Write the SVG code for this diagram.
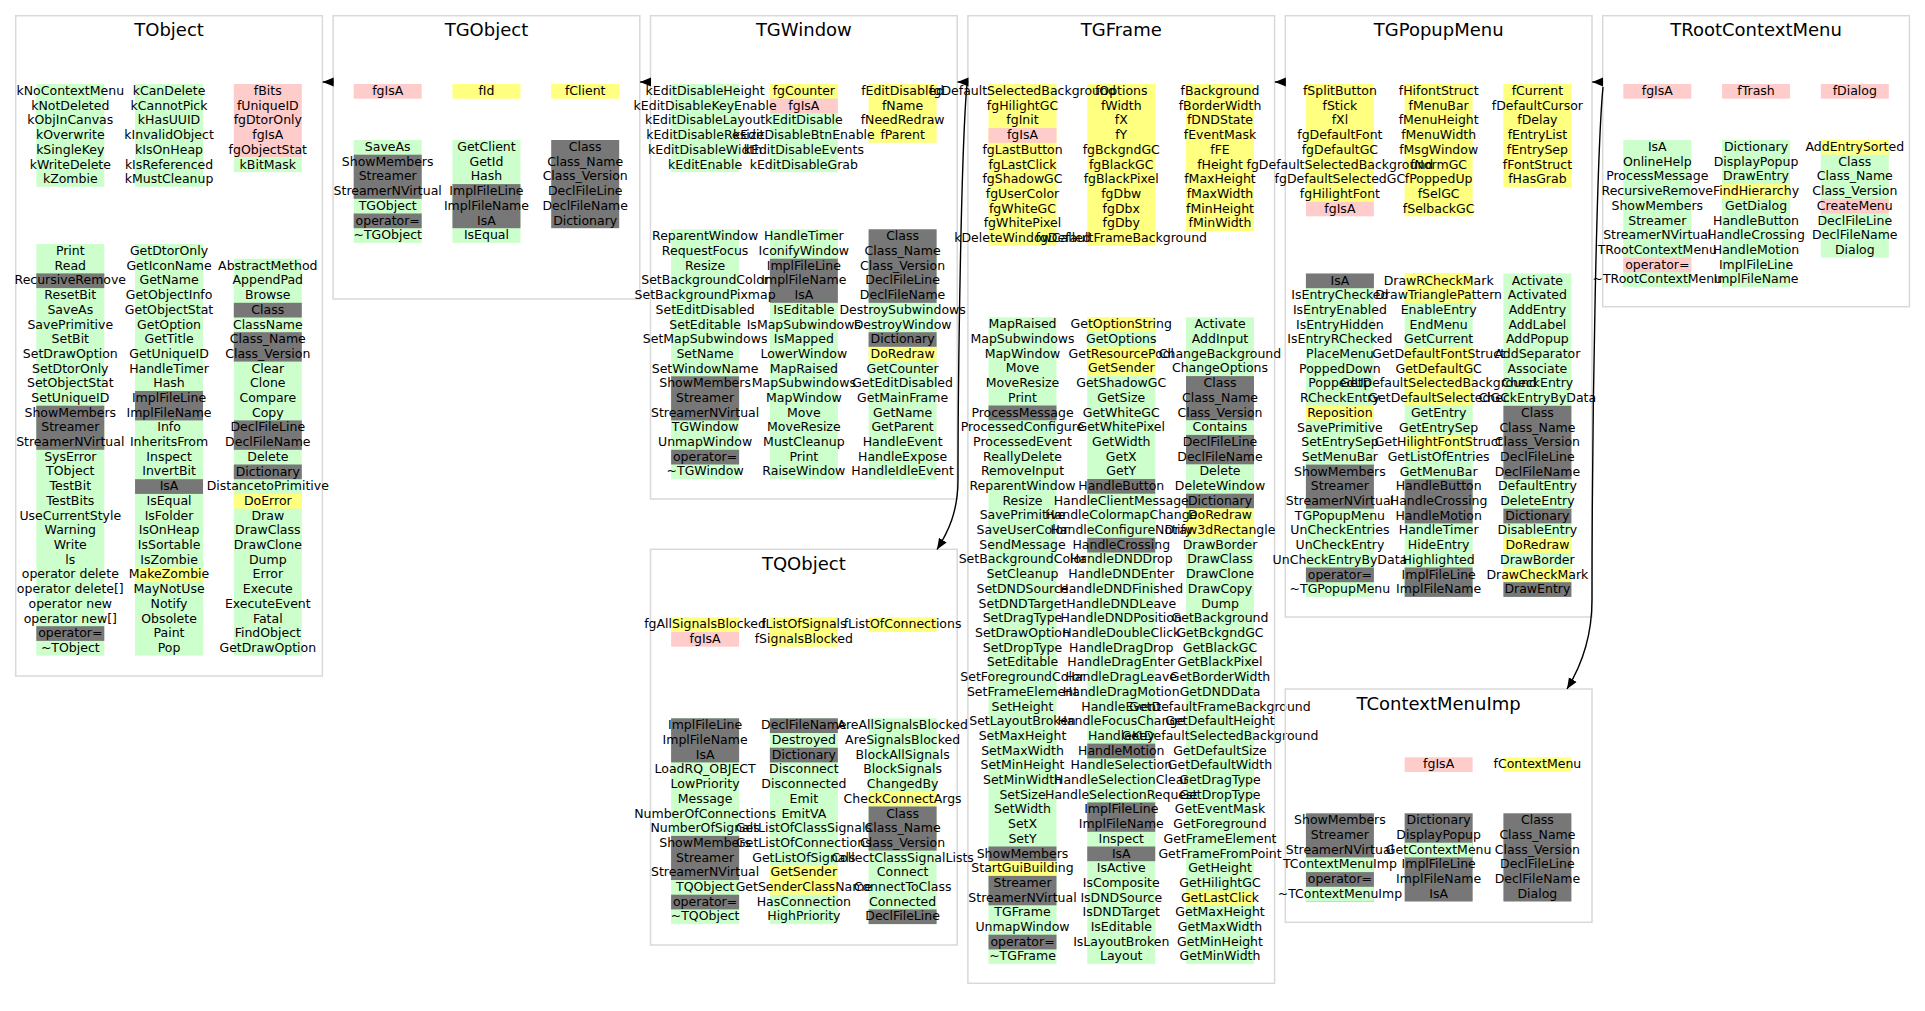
<svg xmlns="http://www.w3.org/2000/svg" width="1925" height="1011" viewBox="0 0 1925 1011">
<style>
.frame{fill:none;stroke:#d9d9d9;stroke-width:1.5}
.title{font-family:"DejaVu Sans",sans-serif;font-size:18px;text-anchor:middle;fill:#000}
.it{font-family:"DejaVu Sans",sans-serif;font-size:12.5px;text-anchor:middle;fill:#000}
.g{fill:#ccffcc}.p{fill:#ffcccc}.y{fill:#ffff80}.k{fill:#777777}
.edge{fill:none;stroke:#000;stroke-width:1.4}
</style>
<defs>
<marker id="ah" markerWidth="12" markerHeight="10" refX="11" refY="5" orient="auto" markerUnits="userSpaceOnUse"><path d="M0,0.5 L11,5 L0,9.5 Z" fill="#000"/></marker>
</defs>
<rect x="0" y="0" width="1925" height="1011" fill="#fff"/>

<g id="TObject">
<rect class="frame" x="15.7" y="15.7" width="306.7" height="660.3"/>
<text class="title" x="169.05" y="36">TObject</text>
<rect class="g" x="36.3" y="84" width="68" height="102.9"/>
<rect class="g" x="135.05" y="84" width="68" height="102.9"/>
<rect class="p" x="233.8" y="84" width="68" height="73.5"/>
<rect class="g" x="233.8" y="157.5" width="68" height="14.7"/>
<rect class="g" x="36.3" y="244" width="68" height="411.6"/>
<rect class="k" x="36.3" y="273.4" width="68" height="14.7"/>
<rect class="k" x="36.3" y="405.7" width="68" height="44.1"/>
<rect class="k" x="36.3" y="626.2" width="68" height="14.7"/>
<rect class="g" x="135.05" y="244" width="68" height="411.6"/>
<rect class="k" x="135.05" y="391" width="68" height="29.4"/>
<rect class="k" x="135.05" y="479.2" width="68" height="14.7"/>
<rect class="y" x="135.05" y="567.4" width="68" height="14.7"/>
<rect class="g" x="233.8" y="258.7" width="68" height="396.9"/>
<rect class="k" x="233.8" y="302.8" width="68" height="14.7"/>
<rect class="k" x="233.8" y="332.2" width="68" height="29.4"/>
<rect class="k" x="233.8" y="420.4" width="68" height="29.4"/>
<rect class="k" x="233.8" y="464.5" width="68" height="14.7"/>
<rect class="y" x="233.8" y="493.9" width="68" height="14.7"/>
<text class="it" y="95"><tspan x="70.3">kNoContextMenu</tspan><tspan x="70.3" dy="14.7">kNotDeleted</tspan><tspan x="70.3" dy="14.7">kObjInCanvas</tspan><tspan x="70.3" dy="14.7">kOverwrite</tspan><tspan x="70.3" dy="14.7">kSingleKey</tspan><tspan x="70.3" dy="14.7">kWriteDelete</tspan><tspan x="70.3" dy="14.7">kZombie</tspan></text>
<text class="it" y="95"><tspan x="169.05">kCanDelete</tspan><tspan x="169.05" dy="14.7">kCannotPick</tspan><tspan x="169.05" dy="14.7">kHasUUID</tspan><tspan x="169.05" dy="14.7">kInvalidObject</tspan><tspan x="169.05" dy="14.7">kIsOnHeap</tspan><tspan x="169.05" dy="14.7">kIsReferenced</tspan><tspan x="169.05" dy="14.7">kMustCleanup</tspan></text>
<text class="it" y="95"><tspan x="267.8">fBits</tspan><tspan x="267.8" dy="14.7">fUniqueID</tspan><tspan x="267.8" dy="14.7">fgDtorOnly</tspan><tspan x="267.8" dy="14.7">fgIsA</tspan><tspan x="267.8" dy="14.7">fgObjectStat</tspan><tspan x="267.8" dy="14.7">kBitMask</tspan></text>
<text class="it" y="255"><tspan x="70.3">Print</tspan><tspan x="70.3" dy="14.7">Read</tspan><tspan x="70.3" dy="14.7">RecursiveRemove</tspan><tspan x="70.3" dy="14.7">ResetBit</tspan><tspan x="70.3" dy="14.7">SaveAs</tspan><tspan x="70.3" dy="14.7">SavePrimitive</tspan><tspan x="70.3" dy="14.7">SetBit</tspan><tspan x="70.3" dy="14.7">SetDrawOption</tspan><tspan x="70.3" dy="14.7">SetDtorOnly</tspan><tspan x="70.3" dy="14.7">SetObjectStat</tspan><tspan x="70.3" dy="14.7">SetUniqueID</tspan><tspan x="70.3" dy="14.7">ShowMembers</tspan><tspan x="70.3" dy="14.7">Streamer</tspan><tspan x="70.3" dy="14.7">StreamerNVirtual</tspan><tspan x="70.3" dy="14.7">SysError</tspan><tspan x="70.3" dy="14.7">TObject</tspan><tspan x="70.3" dy="14.7">TestBit</tspan><tspan x="70.3" dy="14.7">TestBits</tspan><tspan x="70.3" dy="14.7">UseCurrentStyle</tspan><tspan x="70.3" dy="14.7">Warning</tspan><tspan x="70.3" dy="14.7">Write</tspan><tspan x="70.3" dy="14.7">ls</tspan><tspan x="70.3" dy="14.7">operator delete</tspan><tspan x="70.3" dy="14.7">operator delete[]</tspan><tspan x="70.3" dy="14.7">operator new</tspan><tspan x="70.3" dy="14.7">operator new[]</tspan><tspan x="70.3" dy="14.7">operator=</tspan><tspan x="70.3" dy="14.7">~TObject</tspan></text>
<text class="it" y="255"><tspan x="169.05">GetDtorOnly</tspan><tspan x="169.05" dy="14.7">GetIconName</tspan><tspan x="169.05" dy="14.7">GetName</tspan><tspan x="169.05" dy="14.7">GetObjectInfo</tspan><tspan x="169.05" dy="14.7">GetObjectStat</tspan><tspan x="169.05" dy="14.7">GetOption</tspan><tspan x="169.05" dy="14.7">GetTitle</tspan><tspan x="169.05" dy="14.7">GetUniqueID</tspan><tspan x="169.05" dy="14.7">HandleTimer</tspan><tspan x="169.05" dy="14.7">Hash</tspan><tspan x="169.05" dy="14.7">ImplFileLine</tspan><tspan x="169.05" dy="14.7">ImplFileName</tspan><tspan x="169.05" dy="14.7">Info</tspan><tspan x="169.05" dy="14.7">InheritsFrom</tspan><tspan x="169.05" dy="14.7">Inspect</tspan><tspan x="169.05" dy="14.7">InvertBit</tspan><tspan x="169.05" dy="14.7">IsA</tspan><tspan x="169.05" dy="14.7">IsEqual</tspan><tspan x="169.05" dy="14.7">IsFolder</tspan><tspan x="169.05" dy="14.7">IsOnHeap</tspan><tspan x="169.05" dy="14.7">IsSortable</tspan><tspan x="169.05" dy="14.7">IsZombie</tspan><tspan x="169.05" dy="14.7">MakeZombie</tspan><tspan x="169.05" dy="14.7">MayNotUse</tspan><tspan x="169.05" dy="14.7">Notify</tspan><tspan x="169.05" dy="14.7">Obsolete</tspan><tspan x="169.05" dy="14.7">Paint</tspan><tspan x="169.05" dy="14.7">Pop</tspan></text>
<text class="it" y="269.7"><tspan x="267.8">AbstractMethod</tspan><tspan x="267.8" dy="14.7">AppendPad</tspan><tspan x="267.8" dy="14.7">Browse</tspan><tspan x="267.8" dy="14.7">Class</tspan><tspan x="267.8" dy="14.7">ClassName</tspan><tspan x="267.8" dy="14.7">Class_Name</tspan><tspan x="267.8" dy="14.7">Class_Version</tspan><tspan x="267.8" dy="14.7">Clear</tspan><tspan x="267.8" dy="14.7">Clone</tspan><tspan x="267.8" dy="14.7">Compare</tspan><tspan x="267.8" dy="14.7">Copy</tspan><tspan x="267.8" dy="14.7">DeclFileLine</tspan><tspan x="267.8" dy="14.7">DeclFileName</tspan><tspan x="267.8" dy="14.7">Delete</tspan><tspan x="267.8" dy="14.7">Dictionary</tspan><tspan x="267.8" dy="14.7">DistancetoPrimitive</tspan><tspan x="267.8" dy="14.7">DoError</tspan><tspan x="267.8" dy="14.7">Draw</tspan><tspan x="267.8" dy="14.7">DrawClass</tspan><tspan x="267.8" dy="14.7">DrawClone</tspan><tspan x="267.8" dy="14.7">Dump</tspan><tspan x="267.8" dy="14.7">Error</tspan><tspan x="267.8" dy="14.7">Execute</tspan><tspan x="267.8" dy="14.7">ExecuteEvent</tspan><tspan x="267.8" dy="14.7">Fatal</tspan><tspan x="267.8" dy="14.7">FindObject</tspan><tspan x="267.8" dy="14.7">GetDrawOption</tspan></text>
</g>

<g id="TGObject">
<rect class="frame" x="333.1" y="15.7" width="306.7" height="283.3"/>
<text class="title" x="486.45" y="36">TGObject</text>
<rect class="p" x="353.7" y="84" width="68" height="14.7"/>
<rect class="y" x="452.45" y="84" width="68" height="14.7"/>
<rect class="y" x="551.2" y="84" width="68" height="14.7"/>
<rect class="g" x="353.7" y="140" width="68" height="102.9"/>
<rect class="k" x="353.7" y="154.7" width="68" height="44.1"/>
<rect class="k" x="353.7" y="213.5" width="68" height="14.7"/>
<rect class="g" x="452.45" y="140" width="68" height="102.9"/>
<rect class="k" x="452.45" y="184.1" width="68" height="44.1"/>
<rect class="k" x="551.2" y="140" width="68" height="88.2"/>
<text class="it" y="95"><tspan x="387.7">fgIsA</tspan></text>
<text class="it" y="95"><tspan x="486.45">fId</tspan></text>
<text class="it" y="95"><tspan x="585.2">fClient</tspan></text>
<text class="it" y="151"><tspan x="387.7">SaveAs</tspan><tspan x="387.7" dy="14.7">ShowMembers</tspan><tspan x="387.7" dy="14.7">Streamer</tspan><tspan x="387.7" dy="14.7">StreamerNVirtual</tspan><tspan x="387.7" dy="14.7">TGObject</tspan><tspan x="387.7" dy="14.7">operator=</tspan><tspan x="387.7" dy="14.7">~TGObject</tspan></text>
<text class="it" y="151"><tspan x="486.45">GetClient</tspan><tspan x="486.45" dy="14.7">GetId</tspan><tspan x="486.45" dy="14.7">Hash</tspan><tspan x="486.45" dy="14.7">ImplFileLine</tspan><tspan x="486.45" dy="14.7">ImplFileName</tspan><tspan x="486.45" dy="14.7">IsA</tspan><tspan x="486.45" dy="14.7">IsEqual</tspan></text>
<text class="it" y="151"><tspan x="585.2">Class</tspan><tspan x="585.2" dy="14.7">Class_Name</tspan><tspan x="585.2" dy="14.7">Class_Version</tspan><tspan x="585.2" dy="14.7">DeclFileLine</tspan><tspan x="585.2" dy="14.7">DeclFileName</tspan><tspan x="585.2" dy="14.7">Dictionary</tspan></text>
</g>

<g id="TGWindow">
<rect class="frame" x="650.5" y="15.7" width="306.7" height="483.3"/>
<text class="title" x="803.85" y="36">TGWindow</text>
<rect class="g" x="671.1" y="84" width="68" height="88.2"/>
<rect class="g" x="769.85" y="84" width="68" height="88.2"/>
<rect class="y" x="769.85" y="84" width="68" height="14.7"/>
<rect class="p" x="769.85" y="98.7" width="68" height="14.7"/>
<rect class="y" x="868.6" y="84" width="68" height="58.8"/>
<rect class="g" x="671.1" y="229.3" width="68" height="249.9"/>
<rect class="k" x="671.1" y="376.3" width="68" height="44.1"/>
<rect class="k" x="671.1" y="449.8" width="68" height="14.7"/>
<rect class="g" x="769.85" y="229.3" width="68" height="249.9"/>
<rect class="k" x="769.85" y="258.7" width="68" height="44.1"/>
<rect class="g" x="868.6" y="229.3" width="68" height="249.9"/>
<rect class="k" x="868.6" y="229.3" width="68" height="73.5"/>
<rect class="k" x="868.6" y="332.2" width="68" height="14.7"/>
<rect class="y" x="868.6" y="346.9" width="68" height="14.7"/>
<text class="it" y="95"><tspan x="705.1">kEditDisableHeight</tspan><tspan x="705.1" dy="14.7">kEditDisableKeyEnable</tspan><tspan x="705.1" dy="14.7">kEditDisableLayout</tspan><tspan x="705.1" dy="14.7">kEditDisableResize</tspan><tspan x="705.1" dy="14.7">kEditDisableWidth</tspan><tspan x="705.1" dy="14.7">kEditEnable</tspan></text>
<text class="it" y="95"><tspan x="803.85">fgCounter</tspan><tspan x="803.85" dy="14.7">fgIsA</tspan><tspan x="803.85" dy="14.7">kEditDisable</tspan><tspan x="803.85" dy="14.7">kEditDisableBtnEnable</tspan><tspan x="803.85" dy="14.7">kEditDisableEvents</tspan><tspan x="803.85" dy="14.7">kEditDisableGrab</tspan></text>
<text class="it" y="95"><tspan x="902.6">fEditDisabled</tspan><tspan x="902.6" dy="14.7">fName</tspan><tspan x="902.6" dy="14.7">fNeedRedraw</tspan><tspan x="902.6" dy="14.7">fParent</tspan></text>
<text class="it" y="240.3"><tspan x="705.1">ReparentWindow</tspan><tspan x="705.1" dy="14.7">RequestFocus</tspan><tspan x="705.1" dy="14.7">Resize</tspan><tspan x="705.1" dy="14.7">SetBackgroundColor</tspan><tspan x="705.1" dy="14.7">SetBackgroundPixmap</tspan><tspan x="705.1" dy="14.7">SetEditDisabled</tspan><tspan x="705.1" dy="14.7">SetEditable</tspan><tspan x="705.1" dy="14.7">SetMapSubwindows</tspan><tspan x="705.1" dy="14.7">SetName</tspan><tspan x="705.1" dy="14.7">SetWindowName</tspan><tspan x="705.1" dy="14.7">ShowMembers</tspan><tspan x="705.1" dy="14.7">Streamer</tspan><tspan x="705.1" dy="14.7">StreamerNVirtual</tspan><tspan x="705.1" dy="14.7">TGWindow</tspan><tspan x="705.1" dy="14.7">UnmapWindow</tspan><tspan x="705.1" dy="14.7">operator=</tspan><tspan x="705.1" dy="14.7">~TGWindow</tspan></text>
<text class="it" y="240.3"><tspan x="803.85">HandleTimer</tspan><tspan x="803.85" dy="14.7">IconifyWindow</tspan><tspan x="803.85" dy="14.7">ImplFileLine</tspan><tspan x="803.85" dy="14.7">ImplFileName</tspan><tspan x="803.85" dy="14.7">IsA</tspan><tspan x="803.85" dy="14.7">IsEditable</tspan><tspan x="803.85" dy="14.7">IsMapSubwindows</tspan><tspan x="803.85" dy="14.7">IsMapped</tspan><tspan x="803.85" dy="14.7">LowerWindow</tspan><tspan x="803.85" dy="14.7">MapRaised</tspan><tspan x="803.85" dy="14.7">MapSubwindows</tspan><tspan x="803.85" dy="14.7">MapWindow</tspan><tspan x="803.85" dy="14.7">Move</tspan><tspan x="803.85" dy="14.7">MoveResize</tspan><tspan x="803.85" dy="14.7">MustCleanup</tspan><tspan x="803.85" dy="14.7">Print</tspan><tspan x="803.85" dy="14.7">RaiseWindow</tspan></text>
<text class="it" y="240.3"><tspan x="902.6">Class</tspan><tspan x="902.6" dy="14.7">Class_Name</tspan><tspan x="902.6" dy="14.7">Class_Version</tspan><tspan x="902.6" dy="14.7">DeclFileLine</tspan><tspan x="902.6" dy="14.7">DeclFileName</tspan><tspan x="902.6" dy="14.7">DestroySubwindows</tspan><tspan x="902.6" dy="14.7">DestroyWindow</tspan><tspan x="902.6" dy="14.7">Dictionary</tspan><tspan x="902.6" dy="14.7">DoRedraw</tspan><tspan x="902.6" dy="14.7">GetCounter</tspan><tspan x="902.6" dy="14.7">GetEditDisabled</tspan><tspan x="902.6" dy="14.7">GetMainFrame</tspan><tspan x="902.6" dy="14.7">GetName</tspan><tspan x="902.6" dy="14.7">GetParent</tspan><tspan x="902.6" dy="14.7">HandleEvent</tspan><tspan x="902.6" dy="14.7">HandleExpose</tspan><tspan x="902.6" dy="14.7">HandleIdleEvent</tspan></text>
</g>

<g id="TGFrame">
<rect class="frame" x="967.9" y="15.7" width="306.7" height="967.6"/>
<text class="title" x="1121.25" y="36">TGFrame</text>
<rect class="y" x="988.5" y="84" width="68" height="161.7"/>
<rect class="p" x="988.5" y="128.1" width="68" height="14.7"/>
<rect class="y" x="1087.25" y="84" width="68" height="161.7"/>
<rect class="y" x="1186" y="84" width="68" height="147"/>
<rect class="g" x="988.5" y="317.3" width="68" height="646.8"/>
<rect class="k" x="988.5" y="405.5" width="68" height="14.7"/>
<rect class="k" x="988.5" y="846.5" width="68" height="14.7"/>
<rect class="y" x="988.5" y="861.2" width="68" height="14.7"/>
<rect class="k" x="988.5" y="875.9" width="68" height="29.4"/>
<rect class="k" x="988.5" y="934.7" width="68" height="14.7"/>
<rect class="g" x="1087.25" y="317.3" width="68" height="646.8"/>
<rect class="y" x="1087.25" y="317.3" width="68" height="14.7"/>
<rect class="y" x="1087.25" y="346.7" width="68" height="29.4"/>
<rect class="k" x="1087.25" y="479" width="68" height="14.7"/>
<rect class="k" x="1087.25" y="537.8" width="68" height="14.7"/>
<rect class="k" x="1087.25" y="743.6" width="68" height="14.7"/>
<rect class="k" x="1087.25" y="802.4" width="68" height="29.4"/>
<rect class="k" x="1087.25" y="846.5" width="68" height="14.7"/>
<rect class="g" x="1186" y="317.3" width="68" height="646.8"/>
<rect class="k" x="1186" y="376.1" width="68" height="44.1"/>
<rect class="k" x="1186" y="434.9" width="68" height="29.4"/>
<rect class="k" x="1186" y="493.7" width="68" height="14.7"/>
<rect class="y" x="1186" y="508.4" width="68" height="29.4"/>
<rect class="y" x="1186" y="890.6" width="68" height="14.7"/>
<text class="it" y="95"><tspan x="1022.5">fgDefaultSelectedBackground</tspan><tspan x="1022.5" dy="14.7">fgHilightGC</tspan><tspan x="1022.5" dy="14.7">fgInit</tspan><tspan x="1022.5" dy="14.7">fgIsA</tspan><tspan x="1022.5" dy="14.7">fgLastButton</tspan><tspan x="1022.5" dy="14.7">fgLastClick</tspan><tspan x="1022.5" dy="14.7">fgShadowGC</tspan><tspan x="1022.5" dy="14.7">fgUserColor</tspan><tspan x="1022.5" dy="14.7">fgWhiteGC</tspan><tspan x="1022.5" dy="14.7">fgWhitePixel</tspan><tspan x="1022.5" dy="14.7">kDeleteWindowCalled</tspan></text>
<text class="it" y="95"><tspan x="1121.25">fOptions</tspan><tspan x="1121.25" dy="14.7">fWidth</tspan><tspan x="1121.25" dy="14.7">fX</tspan><tspan x="1121.25" dy="14.7">fY</tspan><tspan x="1121.25" dy="14.7">fgBckgndGC</tspan><tspan x="1121.25" dy="14.7">fgBlackGC</tspan><tspan x="1121.25" dy="14.7">fgBlackPixel</tspan><tspan x="1121.25" dy="14.7">fgDbw</tspan><tspan x="1121.25" dy="14.7">fgDbx</tspan><tspan x="1121.25" dy="14.7">fgDby</tspan><tspan x="1121.25" dy="14.7">fgDefaultFrameBackground</tspan></text>
<text class="it" y="95"><tspan x="1220">fBackground</tspan><tspan x="1220" dy="14.7">fBorderWidth</tspan><tspan x="1220" dy="14.7">fDNDState</tspan><tspan x="1220" dy="14.7">fEventMask</tspan><tspan x="1220" dy="14.7">fFE</tspan><tspan x="1220" dy="14.7">fHeight</tspan><tspan x="1220" dy="14.7">fMaxHeight</tspan><tspan x="1220" dy="14.7">fMaxWidth</tspan><tspan x="1220" dy="14.7">fMinHeight</tspan><tspan x="1220" dy="14.7">fMinWidth</tspan></text>
<text class="it" y="328.3"><tspan x="1022.5">MapRaised</tspan><tspan x="1022.5" dy="14.7">MapSubwindows</tspan><tspan x="1022.5" dy="14.7">MapWindow</tspan><tspan x="1022.5" dy="14.7">Move</tspan><tspan x="1022.5" dy="14.7">MoveResize</tspan><tspan x="1022.5" dy="14.7">Print</tspan><tspan x="1022.5" dy="14.7">ProcessMessage</tspan><tspan x="1022.5" dy="14.7">ProcessedConfigure</tspan><tspan x="1022.5" dy="14.7">ProcessedEvent</tspan><tspan x="1022.5" dy="14.7">ReallyDelete</tspan><tspan x="1022.5" dy="14.7">RemoveInput</tspan><tspan x="1022.5" dy="14.7">ReparentWindow</tspan><tspan x="1022.5" dy="14.7">Resize</tspan><tspan x="1022.5" dy="14.7">SavePrimitive</tspan><tspan x="1022.5" dy="14.7">SaveUserColor</tspan><tspan x="1022.5" dy="14.7">SendMessage</tspan><tspan x="1022.5" dy="14.7">SetBackgroundColor</tspan><tspan x="1022.5" dy="14.7">SetCleanup</tspan><tspan x="1022.5" dy="14.7">SetDNDSource</tspan><tspan x="1022.5" dy="14.7">SetDNDTarget</tspan><tspan x="1022.5" dy="14.7">SetDragType</tspan><tspan x="1022.5" dy="14.7">SetDrawOption</tspan><tspan x="1022.5" dy="14.7">SetDropType</tspan><tspan x="1022.5" dy="14.7">SetEditable</tspan><tspan x="1022.5" dy="14.7">SetForegroundColor</tspan><tspan x="1022.5" dy="14.7">SetFrameElement</tspan><tspan x="1022.5" dy="14.7">SetHeight</tspan><tspan x="1022.5" dy="14.7">SetLayoutBroken</tspan><tspan x="1022.5" dy="14.7">SetMaxHeight</tspan><tspan x="1022.5" dy="14.7">SetMaxWidth</tspan><tspan x="1022.5" dy="14.7">SetMinHeight</tspan><tspan x="1022.5" dy="14.7">SetMinWidth</tspan><tspan x="1022.5" dy="14.7">SetSize</tspan><tspan x="1022.5" dy="14.7">SetWidth</tspan><tspan x="1022.5" dy="14.7">SetX</tspan><tspan x="1022.5" dy="14.7">SetY</tspan><tspan x="1022.5" dy="14.7">ShowMembers</tspan><tspan x="1022.5" dy="14.7">StartGuiBuilding</tspan><tspan x="1022.5" dy="14.7">Streamer</tspan><tspan x="1022.5" dy="14.7">StreamerNVirtual</tspan><tspan x="1022.5" dy="14.7">TGFrame</tspan><tspan x="1022.5" dy="14.7">UnmapWindow</tspan><tspan x="1022.5" dy="14.7">operator=</tspan><tspan x="1022.5" dy="14.7">~TGFrame</tspan></text>
<text class="it" y="328.3"><tspan x="1121.25">GetOptionString</tspan><tspan x="1121.25" dy="14.7">GetOptions</tspan><tspan x="1121.25" dy="14.7">GetResourcePool</tspan><tspan x="1121.25" dy="14.7">GetSender</tspan><tspan x="1121.25" dy="14.7">GetShadowGC</tspan><tspan x="1121.25" dy="14.7">GetSize</tspan><tspan x="1121.25" dy="14.7">GetWhiteGC</tspan><tspan x="1121.25" dy="14.7">GetWhitePixel</tspan><tspan x="1121.25" dy="14.7">GetWidth</tspan><tspan x="1121.25" dy="14.7">GetX</tspan><tspan x="1121.25" dy="14.7">GetY</tspan><tspan x="1121.25" dy="14.7">HandleButton</tspan><tspan x="1121.25" dy="14.7">HandleClientMessage</tspan><tspan x="1121.25" dy="14.7">HandleColormapChange</tspan><tspan x="1121.25" dy="14.7">HandleConfigureNotify</tspan><tspan x="1121.25" dy="14.7">HandleCrossing</tspan><tspan x="1121.25" dy="14.7">HandleDNDDrop</tspan><tspan x="1121.25" dy="14.7">HandleDNDEnter</tspan><tspan x="1121.25" dy="14.7">HandleDNDFinished</tspan><tspan x="1121.25" dy="14.7">HandleDNDLeave</tspan><tspan x="1121.25" dy="14.7">HandleDNDPosition</tspan><tspan x="1121.25" dy="14.7">HandleDoubleClick</tspan><tspan x="1121.25" dy="14.7">HandleDragDrop</tspan><tspan x="1121.25" dy="14.7">HandleDragEnter</tspan><tspan x="1121.25" dy="14.7">HandleDragLeave</tspan><tspan x="1121.25" dy="14.7">HandleDragMotion</tspan><tspan x="1121.25" dy="14.7">HandleEvent</tspan><tspan x="1121.25" dy="14.7">HandleFocusChange</tspan><tspan x="1121.25" dy="14.7">HandleKey</tspan><tspan x="1121.25" dy="14.7">HandleMotion</tspan><tspan x="1121.25" dy="14.7">HandleSelection</tspan><tspan x="1121.25" dy="14.7">HandleSelectionClear</tspan><tspan x="1121.25" dy="14.7">HandleSelectionRequest</tspan><tspan x="1121.25" dy="14.7">ImplFileLine</tspan><tspan x="1121.25" dy="14.7">ImplFileName</tspan><tspan x="1121.25" dy="14.7">Inspect</tspan><tspan x="1121.25" dy="14.7">IsA</tspan><tspan x="1121.25" dy="14.7">IsActive</tspan><tspan x="1121.25" dy="14.7">IsComposite</tspan><tspan x="1121.25" dy="14.7">IsDNDSource</tspan><tspan x="1121.25" dy="14.7">IsDNDTarget</tspan><tspan x="1121.25" dy="14.7">IsEditable</tspan><tspan x="1121.25" dy="14.7">IsLayoutBroken</tspan><tspan x="1121.25" dy="14.7">Layout</tspan></text>
<text class="it" y="328.3"><tspan x="1220">Activate</tspan><tspan x="1220" dy="14.7">AddInput</tspan><tspan x="1220" dy="14.7">ChangeBackground</tspan><tspan x="1220" dy="14.7">ChangeOptions</tspan><tspan x="1220" dy="14.7">Class</tspan><tspan x="1220" dy="14.7">Class_Name</tspan><tspan x="1220" dy="14.7">Class_Version</tspan><tspan x="1220" dy="14.7">Contains</tspan><tspan x="1220" dy="14.7">DeclFileLine</tspan><tspan x="1220" dy="14.7">DeclFileName</tspan><tspan x="1220" dy="14.7">Delete</tspan><tspan x="1220" dy="14.7">DeleteWindow</tspan><tspan x="1220" dy="14.7">Dictionary</tspan><tspan x="1220" dy="14.7">DoRedraw</tspan><tspan x="1220" dy="14.7">Draw3dRectangle</tspan><tspan x="1220" dy="14.7">DrawBorder</tspan><tspan x="1220" dy="14.7">DrawClass</tspan><tspan x="1220" dy="14.7">DrawClone</tspan><tspan x="1220" dy="14.7">DrawCopy</tspan><tspan x="1220" dy="14.7">Dump</tspan><tspan x="1220" dy="14.7">GetBackground</tspan><tspan x="1220" dy="14.7">GetBckgndGC</tspan><tspan x="1220" dy="14.7">GetBlackGC</tspan><tspan x="1220" dy="14.7">GetBlackPixel</tspan><tspan x="1220" dy="14.7">GetBorderWidth</tspan><tspan x="1220" dy="14.7">GetDNDData</tspan><tspan x="1220" dy="14.7">GetDefaultFrameBackground</tspan><tspan x="1220" dy="14.7">GetDefaultHeight</tspan><tspan x="1220" dy="14.7">GetDefaultSelectedBackground</tspan><tspan x="1220" dy="14.7">GetDefaultSize</tspan><tspan x="1220" dy="14.7">GetDefaultWidth</tspan><tspan x="1220" dy="14.7">GetDragType</tspan><tspan x="1220" dy="14.7">GetDropType</tspan><tspan x="1220" dy="14.7">GetEventMask</tspan><tspan x="1220" dy="14.7">GetForeground</tspan><tspan x="1220" dy="14.7">GetFrameElement</tspan><tspan x="1220" dy="14.7">GetFrameFromPoint</tspan><tspan x="1220" dy="14.7">GetHeight</tspan><tspan x="1220" dy="14.7">GetHilightGC</tspan><tspan x="1220" dy="14.7">GetLastClick</tspan><tspan x="1220" dy="14.7">GetMaxHeight</tspan><tspan x="1220" dy="14.7">GetMaxWidth</tspan><tspan x="1220" dy="14.7">GetMinHeight</tspan><tspan x="1220" dy="14.7">GetMinWidth</tspan></text>
</g>

<g id="TGPopupMenu">
<rect class="frame" x="1285.3" y="15.7" width="306.7" height="601.3"/>
<text class="title" x="1438.65" y="36">TGPopupMenu</text>
<rect class="y" x="1305.9" y="84" width="68" height="117.6"/>
<rect class="p" x="1305.9" y="201.6" width="68" height="14.7"/>
<rect class="y" x="1404.65" y="84" width="68" height="132.3"/>
<rect class="y" x="1503.4" y="84" width="68" height="102.9"/>
<rect class="g" x="1305.9" y="273.5" width="68" height="323.4"/>
<rect class="k" x="1305.9" y="273.5" width="68" height="14.7"/>
<rect class="y" x="1305.9" y="405.8" width="68" height="14.7"/>
<rect class="k" x="1305.9" y="464.6" width="68" height="44.1"/>
<rect class="k" x="1305.9" y="567.5" width="68" height="14.7"/>
<rect class="g" x="1404.65" y="273.5" width="68" height="323.4"/>
<rect class="y" x="1404.65" y="273.5" width="68" height="29.4"/>
<rect class="y" x="1404.65" y="347" width="68" height="58.8"/>
<rect class="y" x="1404.65" y="435.2" width="68" height="14.7"/>
<rect class="k" x="1404.65" y="479.3" width="68" height="44.1"/>
<rect class="k" x="1404.65" y="567.5" width="68" height="29.4"/>
<rect class="g" x="1503.4" y="273.5" width="68" height="323.4"/>
<rect class="k" x="1503.4" y="405.8" width="68" height="73.5"/>
<rect class="k" x="1503.4" y="508.7" width="68" height="14.7"/>
<rect class="y" x="1503.4" y="538.1" width="68" height="14.7"/>
<rect class="y" x="1503.4" y="567.5" width="68" height="14.7"/>
<rect class="k" x="1503.4" y="582.2" width="68" height="14.7"/>
<text class="it" y="95"><tspan x="1339.9">fSplitButton</tspan><tspan x="1339.9" dy="14.7">fStick</tspan><tspan x="1339.9" dy="14.7">fXl</tspan><tspan x="1339.9" dy="14.7">fgDefaultFont</tspan><tspan x="1339.9" dy="14.7">fgDefaultGC</tspan><tspan x="1339.9" dy="14.7">fgDefaultSelectedBackground</tspan><tspan x="1339.9" dy="14.7">fgDefaultSelectedGC</tspan><tspan x="1339.9" dy="14.7">fgHilightFont</tspan><tspan x="1339.9" dy="14.7">fgIsA</tspan></text>
<text class="it" y="95"><tspan x="1438.65">fHifontStruct</tspan><tspan x="1438.65" dy="14.7">fMenuBar</tspan><tspan x="1438.65" dy="14.7">fMenuHeight</tspan><tspan x="1438.65" dy="14.7">fMenuWidth</tspan><tspan x="1438.65" dy="14.7">fMsgWindow</tspan><tspan x="1438.65" dy="14.7">fNormGC</tspan><tspan x="1438.65" dy="14.7">fPoppedUp</tspan><tspan x="1438.65" dy="14.7">fSelGC</tspan><tspan x="1438.65" dy="14.7">fSelbackGC</tspan></text>
<text class="it" y="95"><tspan x="1537.4">fCurrent</tspan><tspan x="1537.4" dy="14.7">fDefaultCursor</tspan><tspan x="1537.4" dy="14.7">fDelay</tspan><tspan x="1537.4" dy="14.7">fEntryList</tspan><tspan x="1537.4" dy="14.7">fEntrySep</tspan><tspan x="1537.4" dy="14.7">fFontStruct</tspan><tspan x="1537.4" dy="14.7">fHasGrab</tspan></text>
<text class="it" y="284.5"><tspan x="1339.9">IsA</tspan><tspan x="1339.9" dy="14.7">IsEntryChecked</tspan><tspan x="1339.9" dy="14.7">IsEntryEnabled</tspan><tspan x="1339.9" dy="14.7">IsEntryHidden</tspan><tspan x="1339.9" dy="14.7">IsEntryRChecked</tspan><tspan x="1339.9" dy="14.7">PlaceMenu</tspan><tspan x="1339.9" dy="14.7">PoppedDown</tspan><tspan x="1339.9" dy="14.7">PoppedUp</tspan><tspan x="1339.9" dy="14.7">RCheckEntry</tspan><tspan x="1339.9" dy="14.7">Reposition</tspan><tspan x="1339.9" dy="14.7">SavePrimitive</tspan><tspan x="1339.9" dy="14.7">SetEntrySep</tspan><tspan x="1339.9" dy="14.7">SetMenuBar</tspan><tspan x="1339.9" dy="14.7">ShowMembers</tspan><tspan x="1339.9" dy="14.7">Streamer</tspan><tspan x="1339.9" dy="14.7">StreamerNVirtual</tspan><tspan x="1339.9" dy="14.7">TGPopupMenu</tspan><tspan x="1339.9" dy="14.7">UnCheckEntries</tspan><tspan x="1339.9" dy="14.7">UnCheckEntry</tspan><tspan x="1339.9" dy="14.7">UnCheckEntryByData</tspan><tspan x="1339.9" dy="14.7">operator=</tspan><tspan x="1339.9" dy="14.7">~TGPopupMenu</tspan></text>
<text class="it" y="284.5"><tspan x="1438.65">DrawRCheckMark</tspan><tspan x="1438.65" dy="14.7">DrawTrianglePattern</tspan><tspan x="1438.65" dy="14.7">EnableEntry</tspan><tspan x="1438.65" dy="14.7">EndMenu</tspan><tspan x="1438.65" dy="14.7">GetCurrent</tspan><tspan x="1438.65" dy="14.7">GetDefaultFontStruct</tspan><tspan x="1438.65" dy="14.7">GetDefaultGC</tspan><tspan x="1438.65" dy="14.7">GetDefaultSelectedBackground</tspan><tspan x="1438.65" dy="14.7">GetDefaultSelectedGC</tspan><tspan x="1438.65" dy="14.7">GetEntry</tspan><tspan x="1438.65" dy="14.7">GetEntrySep</tspan><tspan x="1438.65" dy="14.7">GetHilightFontStruct</tspan><tspan x="1438.65" dy="14.7">GetListOfEntries</tspan><tspan x="1438.65" dy="14.7">GetMenuBar</tspan><tspan x="1438.65" dy="14.7">HandleButton</tspan><tspan x="1438.65" dy="14.7">HandleCrossing</tspan><tspan x="1438.65" dy="14.7">HandleMotion</tspan><tspan x="1438.65" dy="14.7">HandleTimer</tspan><tspan x="1438.65" dy="14.7">HideEntry</tspan><tspan x="1438.65" dy="14.7">Highlighted</tspan><tspan x="1438.65" dy="14.7">ImplFileLine</tspan><tspan x="1438.65" dy="14.7">ImplFileName</tspan></text>
<text class="it" y="284.5"><tspan x="1537.4">Activate</tspan><tspan x="1537.4" dy="14.7">Activated</tspan><tspan x="1537.4" dy="14.7">AddEntry</tspan><tspan x="1537.4" dy="14.7">AddLabel</tspan><tspan x="1537.4" dy="14.7">AddPopup</tspan><tspan x="1537.4" dy="14.7">AddSeparator</tspan><tspan x="1537.4" dy="14.7">Associate</tspan><tspan x="1537.4" dy="14.7">CheckEntry</tspan><tspan x="1537.4" dy="14.7">CheckEntryByData</tspan><tspan x="1537.4" dy="14.7">Class</tspan><tspan x="1537.4" dy="14.7">Class_Name</tspan><tspan x="1537.4" dy="14.7">Class_Version</tspan><tspan x="1537.4" dy="14.7">DeclFileLine</tspan><tspan x="1537.4" dy="14.7">DeclFileName</tspan><tspan x="1537.4" dy="14.7">DefaultEntry</tspan><tspan x="1537.4" dy="14.7">DeleteEntry</tspan><tspan x="1537.4" dy="14.7">Dictionary</tspan><tspan x="1537.4" dy="14.7">DisableEntry</tspan><tspan x="1537.4" dy="14.7">DoRedraw</tspan><tspan x="1537.4" dy="14.7">DrawBorder</tspan><tspan x="1537.4" dy="14.7">DrawCheckMark</tspan><tspan x="1537.4" dy="14.7">DrawEntry</tspan></text>
</g>

<g id="TRootContextMenu">
<rect class="frame" x="1602.7" y="15.7" width="306.7" height="291"/>
<text class="title" x="1756.05" y="36">TRootContextMenu</text>
<rect class="p" x="1623.3" y="84" width="68" height="14.7"/>
<rect class="p" x="1722.05" y="84" width="68" height="14.7"/>
<rect class="p" x="1820.8" y="84" width="68" height="14.7"/>
<rect class="g" x="1623.3" y="140" width="68" height="147"/>
<rect class="p" x="1623.3" y="257.6" width="68" height="14.7"/>
<rect class="g" x="1722.05" y="140" width="68" height="147"/>
<rect class="y" x="1722.05" y="184.1" width="68" height="14.7"/>
<rect class="g" x="1820.8" y="140" width="68" height="117.6"/>
<rect class="y" x="1820.8" y="140" width="68" height="14.7"/>
<rect class="p" x="1820.8" y="198.8" width="68" height="14.7"/>
<text class="it" y="95"><tspan x="1657.3">fgIsA</tspan></text>
<text class="it" y="95"><tspan x="1756.05">fTrash</tspan></text>
<text class="it" y="95"><tspan x="1854.8">fDialog</tspan></text>
<text class="it" y="151"><tspan x="1657.3">IsA</tspan><tspan x="1657.3" dy="14.7">OnlineHelp</tspan><tspan x="1657.3" dy="14.7">ProcessMessage</tspan><tspan x="1657.3" dy="14.7">RecursiveRemove</tspan><tspan x="1657.3" dy="14.7">ShowMembers</tspan><tspan x="1657.3" dy="14.7">Streamer</tspan><tspan x="1657.3" dy="14.7">StreamerNVirtual</tspan><tspan x="1657.3" dy="14.7">TRootContextMenu</tspan><tspan x="1657.3" dy="14.7">operator=</tspan><tspan x="1657.3" dy="14.7">~TRootContextMenu</tspan></text>
<text class="it" y="151"><tspan x="1756.05">Dictionary</tspan><tspan x="1756.05" dy="14.7">DisplayPopup</tspan><tspan x="1756.05" dy="14.7">DrawEntry</tspan><tspan x="1756.05" dy="14.7">FindHierarchy</tspan><tspan x="1756.05" dy="14.7">GetDialog</tspan><tspan x="1756.05" dy="14.7">HandleButton</tspan><tspan x="1756.05" dy="14.7">HandleCrossing</tspan><tspan x="1756.05" dy="14.7">HandleMotion</tspan><tspan x="1756.05" dy="14.7">ImplFileLine</tspan><tspan x="1756.05" dy="14.7">ImplFileName</tspan></text>
<text class="it" y="151"><tspan x="1854.8">AddEntrySorted</tspan><tspan x="1854.8" dy="14.7">Class</tspan><tspan x="1854.8" dy="14.7">Class_Name</tspan><tspan x="1854.8" dy="14.7">Class_Version</tspan><tspan x="1854.8" dy="14.7">CreateMenu</tspan><tspan x="1854.8" dy="14.7">DeclFileLine</tspan><tspan x="1854.8" dy="14.7">DeclFileName</tspan><tspan x="1854.8" dy="14.7">Dialog</tspan></text>
</g>

<g id="TQObject">
<rect class="frame" x="650.5" y="549.3" width="306.7" height="395.7"/>
<text class="title" x="803.85" y="570">TQObject</text>
<rect class="y" x="671.1" y="617.3" width="68" height="14.7"/>
<rect class="p" x="671.1" y="632" width="68" height="14.7"/>
<rect class="y" x="769.85" y="617.3" width="68" height="29.4"/>
<rect class="y" x="868.6" y="617.3" width="68" height="14.7"/>
<rect class="g" x="671.1" y="718.3" width="68" height="205.8"/>
<rect class="k" x="671.1" y="718.3" width="68" height="44.1"/>
<rect class="k" x="671.1" y="835.9" width="68" height="44.1"/>
<rect class="k" x="671.1" y="894.7" width="68" height="14.7"/>
<rect class="g" x="769.85" y="718.3" width="68" height="205.8"/>
<rect class="k" x="769.85" y="718.3" width="68" height="14.7"/>
<rect class="k" x="769.85" y="747.7" width="68" height="14.7"/>
<rect class="y" x="769.85" y="865.3" width="68" height="29.4"/>
<rect class="g" x="868.6" y="718.3" width="68" height="205.8"/>
<rect class="y" x="868.6" y="791.8" width="68" height="14.7"/>
<rect class="k" x="868.6" y="806.5" width="68" height="44.1"/>
<rect class="k" x="868.6" y="909.4" width="68" height="14.7"/>
<text class="it" y="628.3"><tspan x="705.1">fgAllSignalsBlocked</tspan><tspan x="705.1" dy="14.7">fgIsA</tspan></text>
<text class="it" y="628.3"><tspan x="803.85">fListOfSignals</tspan><tspan x="803.85" dy="14.7">fSignalsBlocked</tspan></text>
<text class="it" y="628.3"><tspan x="902.6">fListOfConnections</tspan></text>
<text class="it" y="729.3"><tspan x="705.1">ImplFileLine</tspan><tspan x="705.1" dy="14.7">ImplFileName</tspan><tspan x="705.1" dy="14.7">IsA</tspan><tspan x="705.1" dy="14.7">LoadRQ_OBJECT</tspan><tspan x="705.1" dy="14.7">LowPriority</tspan><tspan x="705.1" dy="14.7">Message</tspan><tspan x="705.1" dy="14.7">NumberOfConnections</tspan><tspan x="705.1" dy="14.7">NumberOfSignals</tspan><tspan x="705.1" dy="14.7">ShowMembers</tspan><tspan x="705.1" dy="14.7">Streamer</tspan><tspan x="705.1" dy="14.7">StreamerNVirtual</tspan><tspan x="705.1" dy="14.7">TQObject</tspan><tspan x="705.1" dy="14.7">operator=</tspan><tspan x="705.1" dy="14.7">~TQObject</tspan></text>
<text class="it" y="729.3"><tspan x="803.85">DeclFileName</tspan><tspan x="803.85" dy="14.7">Destroyed</tspan><tspan x="803.85" dy="14.7">Dictionary</tspan><tspan x="803.85" dy="14.7">Disconnect</tspan><tspan x="803.85" dy="14.7">Disconnected</tspan><tspan x="803.85" dy="14.7">Emit</tspan><tspan x="803.85" dy="14.7">EmitVA</tspan><tspan x="803.85" dy="14.7">GetListOfClassSignals</tspan><tspan x="803.85" dy="14.7">GetListOfConnections</tspan><tspan x="803.85" dy="14.7">GetListOfSignals</tspan><tspan x="803.85" dy="14.7">GetSender</tspan><tspan x="803.85" dy="14.7">GetSenderClassName</tspan><tspan x="803.85" dy="14.7">HasConnection</tspan><tspan x="803.85" dy="14.7">HighPriority</tspan></text>
<text class="it" y="729.3"><tspan x="902.6">AreAllSignalsBlocked</tspan><tspan x="902.6" dy="14.7">AreSignalsBlocked</tspan><tspan x="902.6" dy="14.7">BlockAllSignals</tspan><tspan x="902.6" dy="14.7">BlockSignals</tspan><tspan x="902.6" dy="14.7">ChangedBy</tspan><tspan x="902.6" dy="14.7">CheckConnectArgs</tspan><tspan x="902.6" dy="14.7">Class</tspan><tspan x="902.6" dy="14.7">Class_Name</tspan><tspan x="902.6" dy="14.7">Class_Version</tspan><tspan x="902.6" dy="14.7">CollectClassSignalLists</tspan><tspan x="902.6" dy="14.7">Connect</tspan><tspan x="902.6" dy="14.7">ConnectToClass</tspan><tspan x="902.6" dy="14.7">Connected</tspan><tspan x="902.6" dy="14.7">DeclFileLine</tspan></text>
</g>

<g id="TContextMenuImp">
<rect class="frame" x="1285.3" y="689" width="306.7" height="233.3"/>
<text class="title" x="1438.65" y="710">TContextMenuImp</text>
<rect class="p" x="1404.65" y="757.3" width="68" height="14.7"/>
<rect class="y" x="1503.4" y="757.3" width="68" height="14.7"/>
<rect class="k" x="1305.9" y="813.3" width="68" height="88.2"/>
<rect class="g" x="1305.9" y="857.4" width="68" height="14.7"/>
<rect class="g" x="1305.9" y="886.8" width="68" height="14.7"/>
<rect class="k" x="1404.65" y="813.3" width="68" height="88.2"/>
<rect class="g" x="1404.65" y="842.7" width="68" height="14.7"/>
<rect class="k" x="1503.4" y="813.3" width="68" height="88.2"/>
<text class="it" y="768.3"><tspan x="1438.65">fgIsA</tspan></text>
<text class="it" y="768.3"><tspan x="1537.4">fContextMenu</tspan></text>
<text class="it" y="824.3"><tspan x="1339.9">ShowMembers</tspan><tspan x="1339.9" dy="14.7">Streamer</tspan><tspan x="1339.9" dy="14.7">StreamerNVirtual</tspan><tspan x="1339.9" dy="14.7">TContextMenuImp</tspan><tspan x="1339.9" dy="14.7">operator=</tspan><tspan x="1339.9" dy="14.7">~TContextMenuImp</tspan></text>
<text class="it" y="824.3"><tspan x="1438.65">Dictionary</tspan><tspan x="1438.65" dy="14.7">DisplayPopup</tspan><tspan x="1438.65" dy="14.7">GetContextMenu</tspan><tspan x="1438.65" dy="14.7">ImplFileLine</tspan><tspan x="1438.65" dy="14.7">ImplFileName</tspan><tspan x="1438.65" dy="14.7">IsA</tspan></text>
<text class="it" y="824.3"><tspan x="1537.4">Class</tspan><tspan x="1537.4" dy="14.7">Class_Name</tspan><tspan x="1537.4" dy="14.7">Class_Version</tspan><tspan x="1537.4" dy="14.7">DeclFileLine</tspan><tspan x="1537.4" dy="14.7">DeclFileName</tspan><tspan x="1537.4" dy="14.7">Dialog</tspan></text>
</g>

<g id="connectors">
<path class="edge" d="M333.5,82 L322.7,82" marker-end="url(#ah)"/>
<path class="edge" d="M650.9,82 L640.1,82" marker-end="url(#ah)"/>
<path class="edge" d="M968.3,82 L957.5,82" marker-end="url(#ah)"/>
<path class="edge" d="M1285.7,82 L1274.9,82" marker-end="url(#ah)"/>
<path class="edge" d="M1603.1,82 L1592.3,82" marker-end="url(#ah)"/>
<path class="edge" d="M967,84 C961,150 958,380 958,480 C958,512 948,532 937,549.5" marker-end="url(#ah)"/>
<path class="edge" d="M1603,87 C1597,150 1592,400 1592,600 C1592,640 1580,668 1567,689" marker-end="url(#ah)"/>
</g>
</svg>
